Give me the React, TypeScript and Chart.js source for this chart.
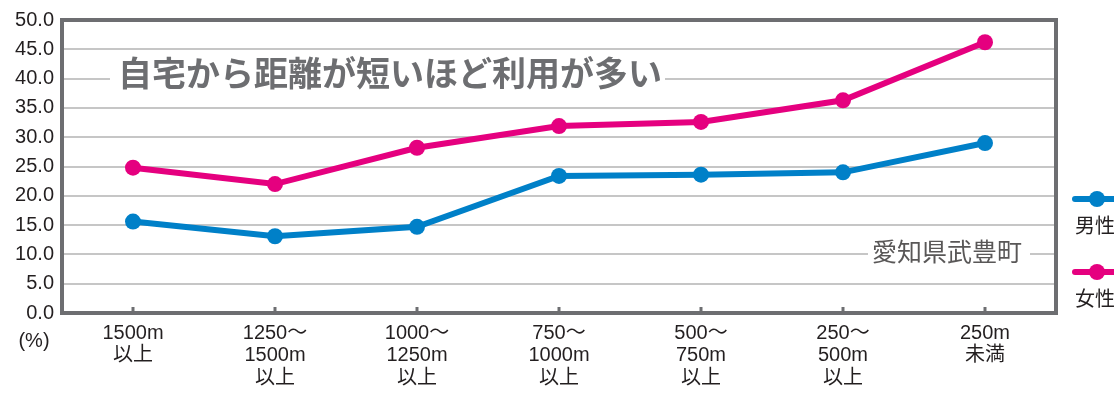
import React, { useEffect, useRef } from "react";
import { Chart, registerables } from "chart.js";

Chart.register(...registerables);

const categories: string[][] = [
  ["1500m", "以上"],
  ["1250～", "1500m", "以上"],
  ["1000～", "1250m", "以上"],
  ["750～", "1000m", "以上"],
  ["500～", "750m", "以上"],
  ["250～", "500m", "以上"],
  ["250m", "未満"],
];
const maleValues = [15.6, 13.1, 14.7, 23.4, 23.6, 24.0, 29.0];
const femaleValues = [24.8, 22.0, 28.2, 31.9, 32.6, 36.3, 46.2];
const seriesNames = ["男性", "女性"];
const seriesColors = ["#0080c8", "#e5007f"];
const headline = "自宅から距離が短いほど利用が多い";
const placeLabel = "愛知県武豊町";
const unitLabel = "(%)";

const FONT = "'Liberation Sans', 'Noto Sans CJK JP', sans-serif";

const overlayPlugin = {
  id: "overlay",
  afterDraw(chart: any) {
    const { ctx, chartArea } = chart;
    const { left, right, top, bottom } = chartArea;
    const xs = chart.scales.x;
    ctx.save();
    // tick marks inward
    ctx.strokeStyle = "#6d6e71";
    ctx.lineWidth = 3;
    for (let i = 0; i < categories.length; i++) {
      const x = xs.getPixelForValue(i);
      ctx.beginPath();
      ctx.moveTo(x, bottom);
      ctx.lineTo(x, bottom - 6);
      ctx.stroke();
    }
    // frame
    ctx.lineWidth = 4;
    ctx.strokeRect(left, top, right - left, bottom - top);
    // unit label
    ctx.fillStyle = "#231f20";
    ctx.font = `20px ${FONT}`;
    ctx.textAlign = "center";
    ctx.textBaseline = "middle";
    ctx.fillText(unitLabel, 34, 341);
    // legend (clipped at right edge)
    const legendY = [199, 272];
    seriesColors.forEach((c, i) => {
      const y = legendY[i];
      ctx.strokeStyle = c;
      ctx.lineWidth = 6;
      ctx.lineCap = "round";
      ctx.beginPath();
      ctx.moveTo(1075, y);
      ctx.lineTo(1130, y);
      ctx.stroke();
      ctx.fillStyle = c;
      ctx.beginPath();
      ctx.arc(1097, y, 8, 0, Math.PI * 2);
      ctx.fill();
      ctx.fillStyle = "#231f20";
      ctx.font = `20px ${FONT}`;
      ctx.textAlign = "left";
      ctx.fillText(seriesNames[i], 1075, y + 28);
    });
    ctx.restore();
  },
  beforeDatasetsDraw(chart: any) {
    const { ctx } = chart;
    ctx.save();
    // headline with white background
    ctx.fillStyle = "#ffffff";
    ctx.fillRect(110, 57, 555, 42);
    ctx.fillStyle = "#6d6e71";
    ctx.font = `bold 34px 'Noto Sans CJK JP', sans-serif`;
    ctx.textAlign = "left";
    ctx.textBaseline = "middle";
    ctx.fillText(headline, 118, 73);
    // place label
    ctx.fillStyle = "#ffffff";
    ctx.fillRect(868, 237, 162, 32);
    ctx.fillStyle = "#595757";
    ctx.font = `25px 'Noto Sans CJK JP', sans-serif`;
    ctx.fillText(placeLabel, 872, 251);
    ctx.restore();
  },
};

export default function App() {
  const ref = useRef<HTMLCanvasElement>(null);
  useEffect(() => {
    if (!ref.current) return;
    const chart = new Chart(ref.current, {
      type: "line",
      data: {
        labels: categories as any,
        datasets: [
          {
            label: seriesNames[0],
            data: maleValues,
            borderColor: seriesColors[0],
            backgroundColor: seriesColors[0],
            borderWidth: 6,
            pointRadius: 8,
            pointBorderWidth: 0,
            tension: 0,
          },
          {
            label: seriesNames[1],
            data: femaleValues,
            borderColor: seriesColors[1],
            backgroundColor: seriesColors[1],
            borderWidth: 6,
            pointRadius: 8,
            pointBorderWidth: 0,
            tension: 0,
          },
        ],
      },
      plugins: [overlayPlugin],
      options: {
        animation: false,
        responsive: false,
        maintainAspectRatio: false,
        layout: { padding: { top: 18, right: 58, left: 0, bottom: 0 } },
        plugins: { legend: { display: false }, tooltip: { enabled: false } },
        scales: {
          x: {
            offset: true,
            grid: { display: false, drawTicks: false },
            border: { display: false },
            ticks: {
              color: "#231f20",
              font: { family: FONT, size: 20, lineHeight: 1.12 },
              padding: 9,
              maxRotation: 0,
              autoSkip: false,
            },
            afterFit(s: any) {
              s.height = 81;
            },
          },
          y: {
            min: 0,
            max: 50,
            grid: { color: "#c6c6c6", lineWidth: 2, drawTicks: false },
            border: { display: false },
            ticks: {
              stepSize: 5,
              color: "#231f20",
              font: { family: FONT, size: 20 },
              padding: 8,
              callback: (v: any) => Number(v).toFixed(1),
            },
            afterFit(s: any) {
              s.width = 62;
            },
          },
        },
      },
    });
    return () => chart.destroy();
  }, []);
  return (
    <div style={{ position: "fixed", left: 0, top: 0, width: 1114, height: 394, background: "#fff" }}>
      <canvas ref={ref} width={1114} height={394} style={{ display: "block" }} />
    </div>
  );
}
